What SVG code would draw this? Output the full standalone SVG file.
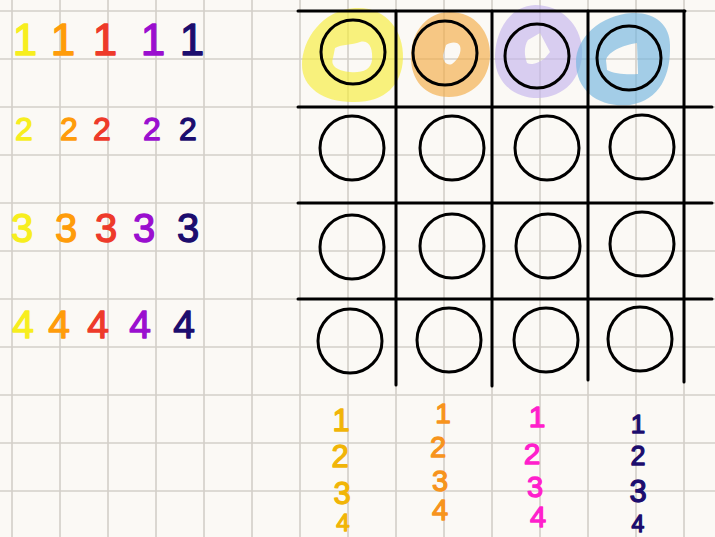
<svg xmlns="http://www.w3.org/2000/svg" width="715" height="537" viewBox="0 0 715 537">
<defs>
<style>
.grid{stroke:#d3cfc9;stroke-width:1.6;fill:none}
.board{stroke:#000;stroke-width:3;fill:none;stroke-linecap:round}
.ring{stroke:#000;stroke-width:3;fill:none}
.hl{fill-rule:evenodd;opacity:0.65}
.n{font-family:"Liberation Sans","DejaVu Sans",sans-serif;text-anchor:middle;stroke-width:1.3;stroke-linejoin:round}
.y{fill:#f7ee1e;stroke:#f7ee1e}.o{fill:#ff9c0a;stroke:#ff9c0a}.r{fill:#ee3a2a;stroke:#ee3a2a}.p{fill:#9a0fcf;stroke:#9a0fcf}.v{fill:#1c0d6e;stroke:#1c0d6e}
.g{fill:#f1b507;stroke:#f1b507}.m{fill:#ff1fcc;stroke:#ff1fcc}.o2{fill:#f7941d;stroke:#f7941d}
</style>
</defs>
<rect width="715" height="537" fill="#fbf9f5"/>
<g id="paper-grid" class="grid">
<path d="M12,0V537M60,0V537M108,0V537M156,0V537M204,0V537M252,0V537M300,0V537M348,0V537M396,0V537M444,0V537M492,0V537M540,0V537M588,0V537M636,0V537M684,0V537"/>
<path d="M0,11H715M0,59H715M0,107H715M0,155H715M0,203H715M0,251H715M0,299H715M0,347H715M0,395H715M0,443H715M0,491H715"/>
</g>
<g id="highlights">
<path class="hl" fill="#f6ec3b" d="M355,8 C385,6 404,30 403,58 C402,85 385,102 355,102 C325,103 302,88 302,65 C302,40 322,10 355,8 Z M335,48 C342,44 352,45 360,42 C370,39 373,50 372,60 C371,70 362,73 350,72 C338,71 330,66 333,58 Z"/>
<path class="hl" fill="#f3ac47" d="M450,12 C475,12 491,32 490,56 C489,80 472,97 449,97 C425,97 410,80 411,55 C412,30 428,12 450,12 Z M446,45 C450,42 458,41 460,46 C462,52 458,60 452,64 C447,66 443,62 443,55 Z"/>
<path class="hl" fill="#c5b5ed" d="M535,5 C562,5 580,25 582,48 C584,75 566,98 538,98 C512,98 494,80 495,55 C496,30 510,6 535,5 Z M528,40 L540,33 L550,52 L545,58 C540,62 532,66 527,63 C524,55 524,46 528,40 Z"/>
<path class="hl" fill="#73b5de" d="M632,13 C655,12 670,25 670,45 C671,75 660,100 630,105 C600,108 576,92 576,62 C576,38 600,15 632,13 Z M606,60 C608,52 622,45 637,43 L638,74 C628,75 614,74 607,70 Z"/>
</g>
<g id="board" class="board">
<path d="M298,11H685"/>
<path d="M298,107H712M298,203H712M298,299H712"/>
<path d="M396,11V385M492,11V386M588,11V380M684,11V382"/>
</g>
<g id="circles" class="ring">
<g id="c11"><circle cx="353" cy="52" r="32"/></g>
<g id="c12"><circle cx="445" cy="53" r="32"/></g>
<g id="c13"><circle cx="537" cy="56" r="32"/></g>
<g id="c14"><circle cx="629" cy="58" r="32"/></g>
<g id="c21"><circle cx="352" cy="148" r="32"/></g>
<g id="c22"><circle cx="452" cy="148" r="32"/></g>
<g id="c23"><circle cx="547" cy="148" r="32"/></g>
<g id="c24"><circle cx="642" cy="147" r="32"/></g>
<g id="c31"><circle cx="352" cy="247" r="32"/></g>
<g id="c32"><circle cx="452" cy="246" r="32"/></g>
<g id="c33"><circle cx="548" cy="246" r="32"/></g>
<g id="c34"><circle cx="642" cy="244" r="32"/></g>
<g id="c41"><circle cx="350" cy="341" r="32"/></g>
<g id="c42"><circle cx="449" cy="340" r="32"/></g>
<g id="c43"><circle cx="546" cy="340" r="32"/></g>
<g id="c44"><circle cx="640" cy="339" r="32"/></g>
</g>
<g id="left-numbers" class="n">
<g font-size="44">
<text class="y" x="25" y="55">1</text><text class="o" x="63" y="55">1</text><text class="r" x="105" y="55">1</text><text class="p" x="153" y="55">1</text><text class="v" x="192" y="55">1</text>
</g>
<g font-size="32">
<text class="y" x="24" y="140">2</text><text class="o" x="69" y="140">2</text><text class="r" x="102" y="140">2</text><text class="p" x="152" y="140">2</text><text class="v" x="188" y="140">2</text>
</g>
<g font-size="40">
<text class="y" x="22" y="242">3</text><text class="o" x="66" y="242">3</text><text class="r" x="106" y="242">3</text><text class="p" x="144" y="242">3</text><text class="v" x="188" y="242">3</text>
</g>
<g font-size="39">
<text class="y" x="23" y="338">4</text><text class="o" x="59" y="338">4</text><text class="r" x="98" y="338">4</text><text class="p" x="140" y="338">4</text><text class="v" x="184" y="338">4</text>
</g>
</g>
<g id="bottom-numbers" class="n" font-size="31">
<text class="g" x="341" y="431">1</text><text class="g" x="340" y="467">2</text><text class="g" x="342" y="504">3</text><text class="g" x="343" y="531" font-size="24">4</text>
<text class="o2" x="443" y="423" font-size="28">1</text><text class="o2" x="438" y="457" font-size="29">2</text><text class="o2" x="440" y="491" font-size="29">3</text><text class="o2" x="440" y="520" font-size="29">4</text>
<text class="m" x="537" y="427" font-size="30">1</text><text class="m" x="532" y="464" font-size="30">2</text><text class="m" x="535" y="497" font-size="29">3</text><text class="m" x="538" y="527" font-size="29">4</text>
<text class="v" x="638" y="433" font-size="26">1</text><text class="v" x="638" y="465" font-size="27">2</text><text class="v" x="638" y="502" font-size="31">3</text><text class="v" x="638" y="532" font-size="23">4</text>
</g>
</svg>
